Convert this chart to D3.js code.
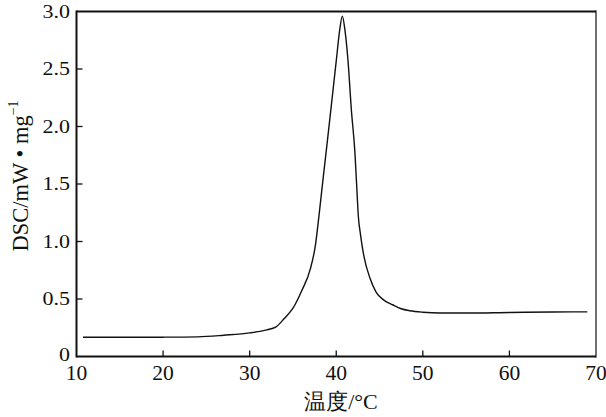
<!DOCTYPE html>
<html><head><meta charset="utf-8">
<script src="https://cdn.jsdelivr.net/npm/d3@7"></script>
<style>
body{margin:0;background:#fff;}
text{font-family:"Liberation Serif","Times New Roman",serif;fill:#111;}
</style></head>
<body><svg id="c" width="606" height="417"></svg>
<script>
const temperature = [10.75,15,20,24,27,30,32,33,34,35,36,37,37.6,38,38.5,39,39.5,40,40.4,40.7,41,41.35,41.75,42.15,42.35,42.55,42.8,43.2,43.9,44.6,45.5,46.5,47.5,48.5,50,52,55,60,65,69];
const dsc = [0.167,0.167,0.168,0.171,0.185,0.205,0.232,0.255,0.33,0.42,0.57,0.76,0.97,1.22,1.56,1.89,2.23,2.57,2.84,2.96,2.84,2.58,2.14,1.78,1.5,1.22,1.06,0.87,0.68,0.56,0.49,0.45,0.415,0.398,0.385,0.378,0.378,0.383,0.387,0.388];
const xTicks = [10,20,30,40,50,60,70];
const yTicks = [0,0.5,1.0,1.5,2.0,2.5,3.0];
const yTickLabels = ["0","0.5","1.0","1.5","2.0","2.5","3.0"];
const xTitle = "温度/°C";

const svg = d3.select("#c");
const L=76.5, R=596, T=11.5, B=356.5;
const x = d3.scaleLinear().domain([10,70]).range([L,R]);
const y = d3.scaleLinear().domain([0,3]).range([B,T]);

// ticks
svg.append("g").selectAll("line").data(xTicks.slice(1,-1)).join("line")
  .attr("x1",d=>x(d)).attr("x2",d=>x(d)).attr("y1",B).attr("y2",B-6)
  .attr("stroke","#111").attr("stroke-width",1.3);
svg.append("g").selectAll("line").data(yTicks.slice(1,-1)).join("line")
  .attr("x1",L).attr("x2",L+6).attr("y1",d=>y(d)).attr("y2",d=>y(d))
  .attr("stroke","#111").attr("stroke-width",1.3);

// frame
svg.append("line").attr("x1",L).attr("x2",R).attr("y1",T).attr("y2",T).attr("stroke","#111").attr("stroke-width",2.2);
svg.append("line").attr("x1",L).attr("x2",R).attr("y1",B).attr("y2",B).attr("stroke","#111").attr("stroke-width",2);
svg.append("line").attr("x1",L).attr("x2",L).attr("y1",T-1).attr("y2",B+1).attr("stroke","#111").attr("stroke-width",2);
svg.append("line").attr("x1",R).attr("x2",R).attr("y1",T-1).attr("y2",B+1).attr("stroke","#111").attr("stroke-width",1.2);

// x labels
svg.append("g").selectAll("text").data(xTicks).join("text")
  .attr("x",d=>x(d)).attr("y",380).attr("text-anchor","middle")
  .attr("font-size",21.5).text(d=>d);
// y labels
svg.append("g").selectAll("text").data(yTicks).join("text")
  .attr("transform",d=>`translate(70,${y(d) - (d===0?1.5:0)}) scale(1,0.84)`)
  .attr("text-anchor","end").attr("dy","0.34em")
  .attr("font-size",22).text((d,i)=>yTickLabels[i]);

// titles
svg.append("text").attr("x",341).attr("y",409).attr("text-anchor","middle")
  .attr("font-size",22).attr("font-family","'Liberation Serif','Noto Sans CJK SC',serif").text(xTitle);
const yt = svg.append("text").attr("transform","translate(28,176) rotate(-90)")
  .attr("text-anchor","middle").attr("font-size",22.5);
yt.append("tspan").text("DSC/mW • mg");
yt.append("tspan").attr("font-size",14).attr("dy",-10).text("−1");

// curve
const pts = temperature.map((t,i)=>[t,dsc[i]]);
svg.append("path").datum(pts)
  .attr("d",d3.line().x(d=>x(d[0])).y(d=>y(d[1])).curve(d3.curveMonotoneX))
  .attr("fill","none").attr("stroke","#111").attr("stroke-width",1.4);
</script></body></html>
